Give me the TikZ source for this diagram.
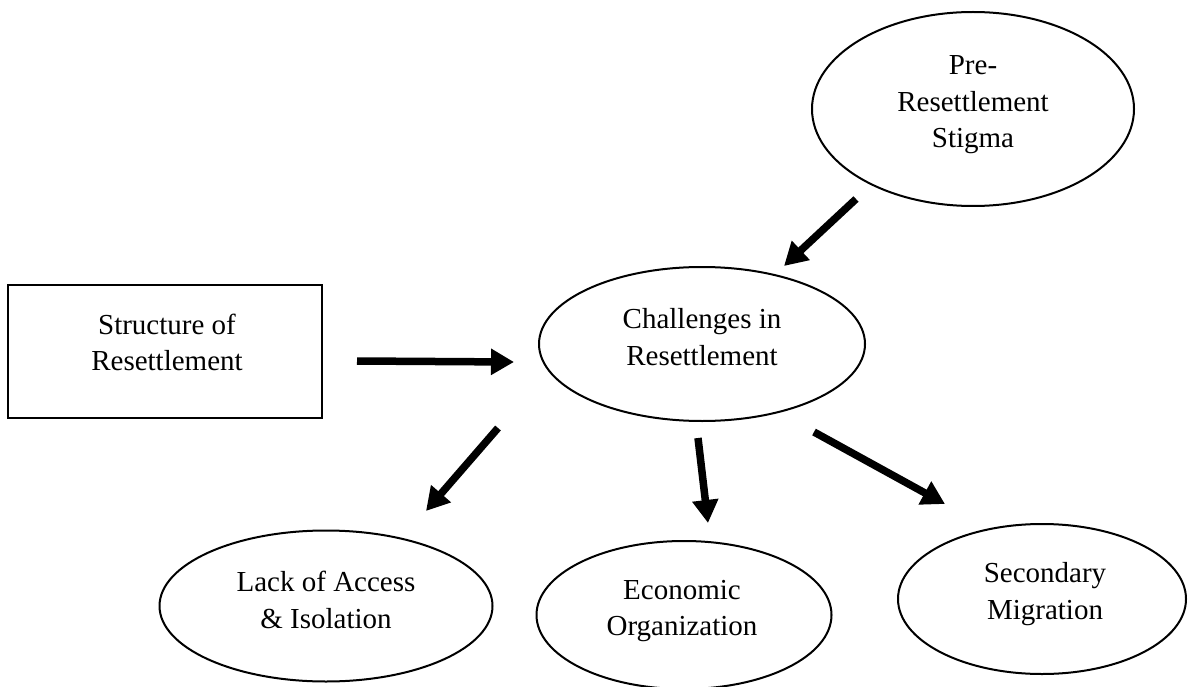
\documentclass[tikz,border=0pt]{standalone}
\usepackage{fontspec}
\setmainfont{Liberation Serif}
\usetikzlibrary{shapes.geometric,arrows.meta}

\tikzset{
  bubble/.style={draw=black, line width=2pt, ellipse, inner sep=0pt},
  boxnode/.style={draw=black, line width=2.4pt, rectangle, inner sep=0pt},
  txt/.style={align=center, inner sep=0pt, font=\fontsize{29}{36.5}\selectfont},
  fat/.style={line width=7.5pt, -{Triangle[width=25pt,length=23pt]}},
}

\begin{document}
\begin{tikzpicture}[x=1pt, y=-1pt]
  \useasboundingbox (0,0) rectangle (1188,687);

  % shapes
  \node[bubble, minimum width=322pt, minimum height=194pt] (pre) at (973,109) {};
  \node[bubble, minimum width=326pt, minimum height=154pt] (chal) at (702,344) {};
  \node[boxnode, minimum width=314pt, minimum height=133pt] (struct) at (165,351.5) {};
  \node[bubble, minimum width=333pt, minimum height=151pt] (lack) at (326,606) {};
  \node[bubble, minimum width=295pt, minimum height=148pt] (econ) at (684,615) {};
  \node[bubble, minimum width=288pt, minimum height=150pt] (sec) at (1042,599) {};

  % labels
  \node[txt] (pret) at ([yshift=4pt]pre.center) {Pre-\\Resettlement\\Stigma};
  \node[txt] (chalt) at ([yshift=7pt]chal.center) {Challenges in\\Resettlement};
  \node[txt] (structt) at ([xshift=2pt,yshift=9pt]struct.center) {Structure of\\Resettlement};
  \node[txt] (lackt) at ([yshift=6pt]lack.center) {Lack of Access\\\& Isolation};
  \node[txt] (econt) at ([xshift=-2pt,yshift=4pt]econ.center) {Economic\\Organization};
  \node[txt] (sect) at ([xshift=3pt,yshift=5pt]sec.center) {Secondary\\Migration};

  % arrow ends
  \coordinate (a1s) at (856,199);  \coordinate (a1e) at (784,266);
  \coordinate (a2s) at (357,361);  \coordinate (a2e) at (514,362);
  \coordinate (a3s) at (498,428);  \coordinate (a3e) at (426,511);
  \coordinate (a4s) at (698,438);  \coordinate (a4e) at (708,523);
  \coordinate (a5s) at (814,432);  \coordinate (a5e) at (945,504);

  % connectors
  \draw[fat] (a1s) -- (a1e);
  \draw[fat] (a2s) -- (a2e);
  \draw[fat] (a3s) -- (a3e);
  \draw[fat] (a4s) -- (a4e);
  \draw[fat] (a5s) -- (a5e);
\end{tikzpicture}
\end{document}
